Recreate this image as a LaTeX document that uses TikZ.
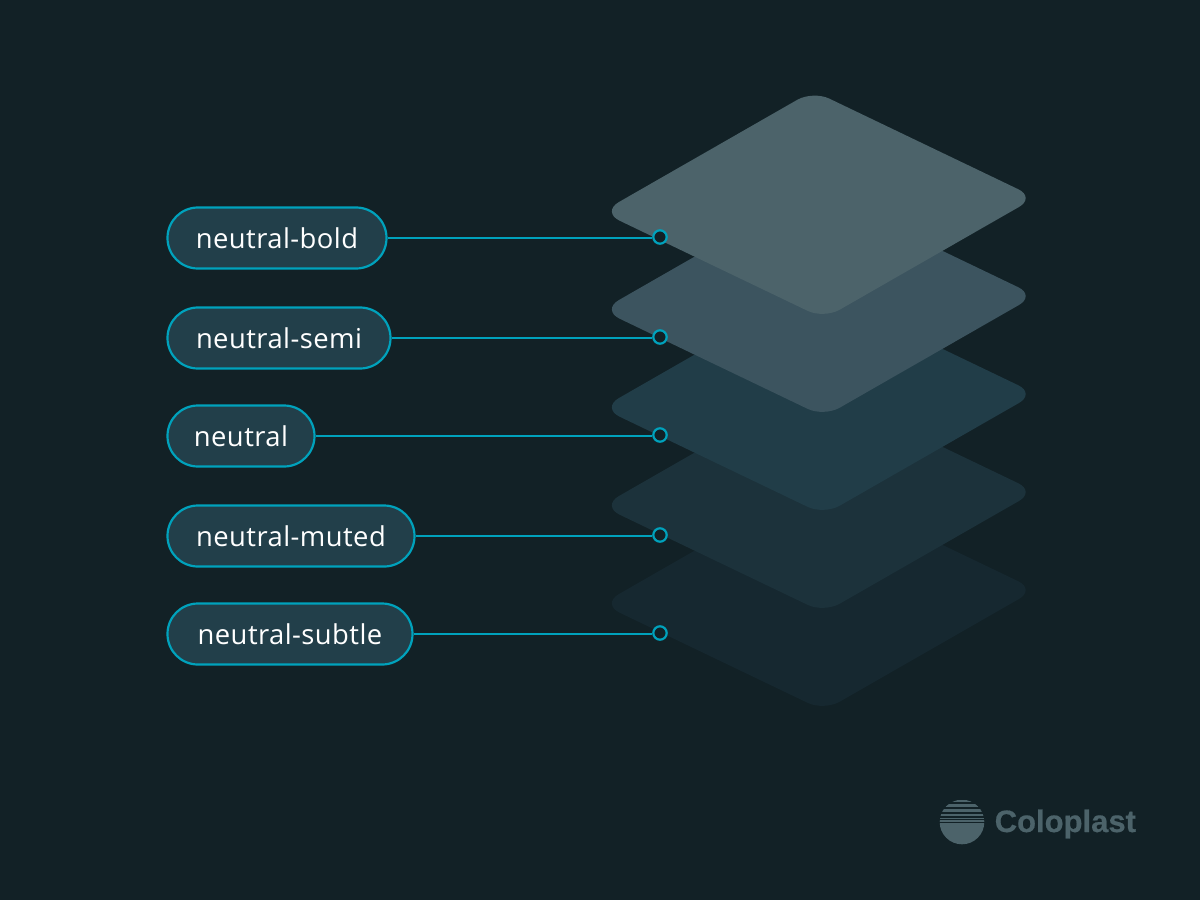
\documentclass[tikz,border=0pt]{standalone}
\usepackage{fontspec}
\usetikzlibrary{calc}
\setmainfont{Open Sans}[LetterSpace=1.6]
\newfontfamily\logofont{Liberation Sans}[BoldFeatures={FakeBold=0.5}]
\definecolor{bgc}{HTML}{122126}
\definecolor{teal}{HTML}{00A2BC}
\definecolor{pillc}{HTML}{223F4A}
\definecolor{lay1}{HTML}{4C636A}
\definecolor{lay2}{HTML}{3C545F}
\definecolor{lay3}{HTML}{213D48}
\definecolor{lay4}{HTML}{1C323B}
\definecolor{lay5}{HTML}{162830}
\definecolor{logoc}{HTML}{4C636A}
\tikzset{
  pill/.style={rectangle, rounded corners=30.4pt, draw=teal, fill=pillc, line width=2.2pt, text=white,
    minimum height=61pt, inner sep=0pt, font=\fontsize{27.4}{30}\selectfont},
  dot/.style={circle, draw=teal, line width=2.2pt, fill=bgc, minimum size=13.4pt, inner sep=0pt},
  link/.style={draw=teal, line width=2.2pt}
}
% corner rounding: edge distance d, control distance 0.4477 d
\newcommand{\layer}[2]{%
  \coordinate (T) at (813,90.8+#1);
  \coordinate (R) at (1035.5,197.5+#1);
  \coordinate (B) at (824,318.7+#1);
  \coordinate (L) at (601.5,212+#1);
  \fill[#2]
    ($(T)!18pt!(L)$) .. controls ($(T)!8pt!(L)$) and ($(T)!8pt!(R)$) .. ($(T)!18pt!(R)$)
    -- ($(R)!19pt!(T)$) .. controls ($(R)!8.5pt!(T)$) and ($(R)!8.5pt!(B)$) .. ($(R)!19pt!(B)$)
    -- ($(B)!18pt!(R)$) .. controls ($(B)!8pt!(R)$) and ($(B)!8pt!(L)$) .. ($(B)!18pt!(L)$)
    -- ($(L)!20pt!(B)$) .. controls ($(L)!9pt!(B)$) and ($(L)!9pt!(T)$) .. ($(L)!20pt!(T)$)
    -- cycle;}
\begin{document}
\begin{tikzpicture}[x=1pt,y=-1pt]
\fill[bgc] (0,0) rectangle (1200,900);
\useasboundingbox (0,0) rectangle (1200,900);
\layer{392}{lay5}
\layer{294}{lay4}
\layer{196}{lay3}
\layer{98}{lay2}
\layer{0}{lay1}
\node[pill, minimum width=219pt] (p1) at (277,238) {neutral-bold};
\node[pill, minimum width=223pt] (p2) at (279,338) {neutral-semi};
\node[pill, minimum width=147pt] (p3) at (241,436) {neutral};
\node[pill, minimum width=247pt] (p4) at (291,536) {neutral-muted};
\node[pill, minimum width=245pt] (p5) at (290,634) {neutral-subtle};
\node[dot] (d1) at (660,237) {};
\node[dot] (d2) at (660,337) {};
\node[dot] (d3) at (660,435) {};
\node[dot] (d4) at (660,535) {};
\node[dot] (d5) at (660,633) {};
\draw[link] (p1.east) -- (d1.west |- p1.east);
\draw[link] (p2.east) -- (d2.west |- p2.east);
\draw[link] (p3.east) -- (d3.west |- p3.east);
\draw[link] (p4.east) -- (d4.west |- p4.east);
\draw[link] (p5.east) -- (d5.west |- p5.east);
% logo
\begin{scope}
\clip (962,822) circle (22.3);
\fill[logoc] (935,823) rectangle (990,850);
\foreach \ya/\yb in {800/802, 804/807, 809/812, 814/816, 817.5/818.6, 820/821.5}{
  \fill[logoc] (935,\ya) rectangle (990,\yb);}
\end{scope}
\node[anchor=west, inner sep=0pt, text=logoc, font=\logofont\fontsize{31}{34}\selectfont\bfseries] (logo) at (994.5,824) {Coloplast};
\end{tikzpicture}
\end{document}
